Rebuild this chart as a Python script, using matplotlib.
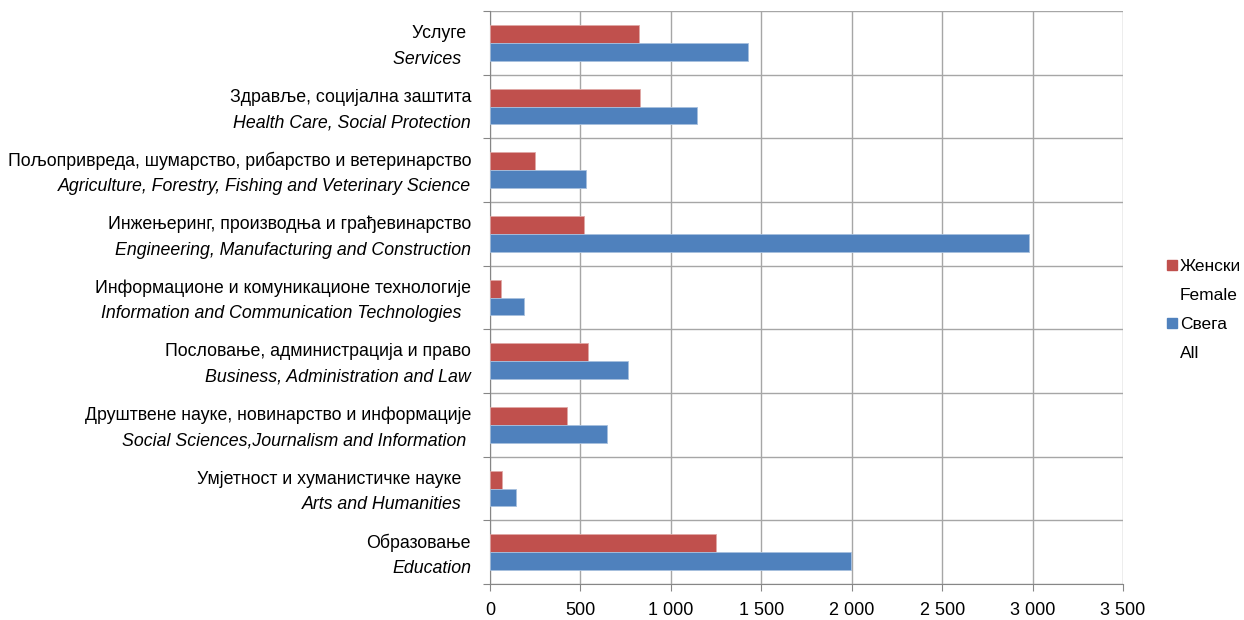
import numpy as np
import matplotlib
matplotlib.use("Agg")
import matplotlib.pyplot as plt
from matplotlib.patches import Patch
from matplotlib.ticker import FuncFormatter

plt.rcParams['font.family'] = ['Liberation Sans', 'DejaVu Sans']

# Подаци (од врха ка дну)
kategorije_sr = ['Услуге ', 'Здравље, социјална заштита',
                 'Пољопривреда, шумарство, рибарство и ветеринарство',
                 'Инжењеринг, производња и грађевинарство',
                 'Информационе и комуникационе технологије',
                 'Пословање, администрација и право',
                 'Друштвене науке, новинарство и информације',
                 'Умјетност и хуманистичке науке  ', 'Образовање']
kategorije_en = ['Services  ', 'Health Care, Social Protection',
                 'Agriculture, Forestry, Fishing and Veterinary Science',
                 'Engineering, Manufacturing and Construction',
                 'Information and Communication Technologies  ',
                 'Business, Administration and Law',
                 'Social Sciences,Journalism and Information ',
                 'Arts and Humanities  ', 'Education']
zenski = [822, 829, 251, 517, 59, 540, 425, 69, 1252]
svega = [1424, 1143, 530, 2982, 189, 761, 646, 142, 1998]
xticks = [0, 500, 1000, 1500, 2000, 2500, 3000, 3500]

crvena = '#C0504D'
plava = '#4F81BD'
siva = '#A6A6A6'

fig = plt.figure(figsize=(12.44, 6.2), dpi=100)
ax = fig.add_axes([490 / 1244, 1 - 584 / 620, 633 / 1244, 573 / 620])

y = np.arange(len(zenski))
h = 0.28
ax.barh(y - h / 2, zenski, height=h, color=crvena, edgecolor='#E0A8A6', linewidth=0.6, zorder=3)
ax.barh(y + h / 2, svega, height=h, color=plava, edgecolor='#A7C0DE', linewidth=0.6, zorder=3)

ax.set_xlim(0, 3500)
ax.set_ylim(len(y) - 0.5, -0.5)
ax.set_xticks(xticks)
ax.xaxis.set_major_formatter(FuncFormatter(lambda v, p: f'{v:,.0f}'.replace(',', ' ')))
ax.tick_params(axis='x', labelsize=13, length=5, color='#868686', pad=8)

granice = np.arange(len(y) + 1) - 0.5
ax.set_yticks(granice)
ax.set_yticklabels([])
ax.tick_params(axis='y', length=5, color='#868686')

ax.grid(True, axis='x', color=siva, linewidth=1, zorder=0)
for g in granice:
    ax.axhline(g, color=siva, linewidth=1, zorder=0)

for s in ['top', 'right']:
    ax.spines[s].set_visible(False)
ax.spines['left'].set_color('#868686')
ax.spines['bottom'].set_color('#868686')

tr = ax.get_yaxis_transform()
for i in range(len(y)):
    ax.text(-0.03, y[i] - 0.145, kategorije_sr[i], transform=tr, ha='right', va='center', fontsize=12.8)
    ax.text(-0.03, y[i] + 0.255, kategorije_en[i], transform=tr, ha='right', va='center',
            fontsize=12.8, style='italic')

prazno = Patch(facecolor='none', edgecolor='none')
ax.legend([Patch(color=crvena), prazno, Patch(color=plava), prazno],
          ['Женски', 'Female', 'Свега', 'All'],
          loc='center left', bbox_to_anchor=(1167 / 1244, 0.5), bbox_transform=fig.transFigure,
          borderaxespad=0, borderpad=0, frameon=False, fontsize=12.5,
          handlelength=0.55, handleheight=0.55, handletextpad=0.2, labelspacing=0.8)

fig.savefig('out.png', dpi=100)
